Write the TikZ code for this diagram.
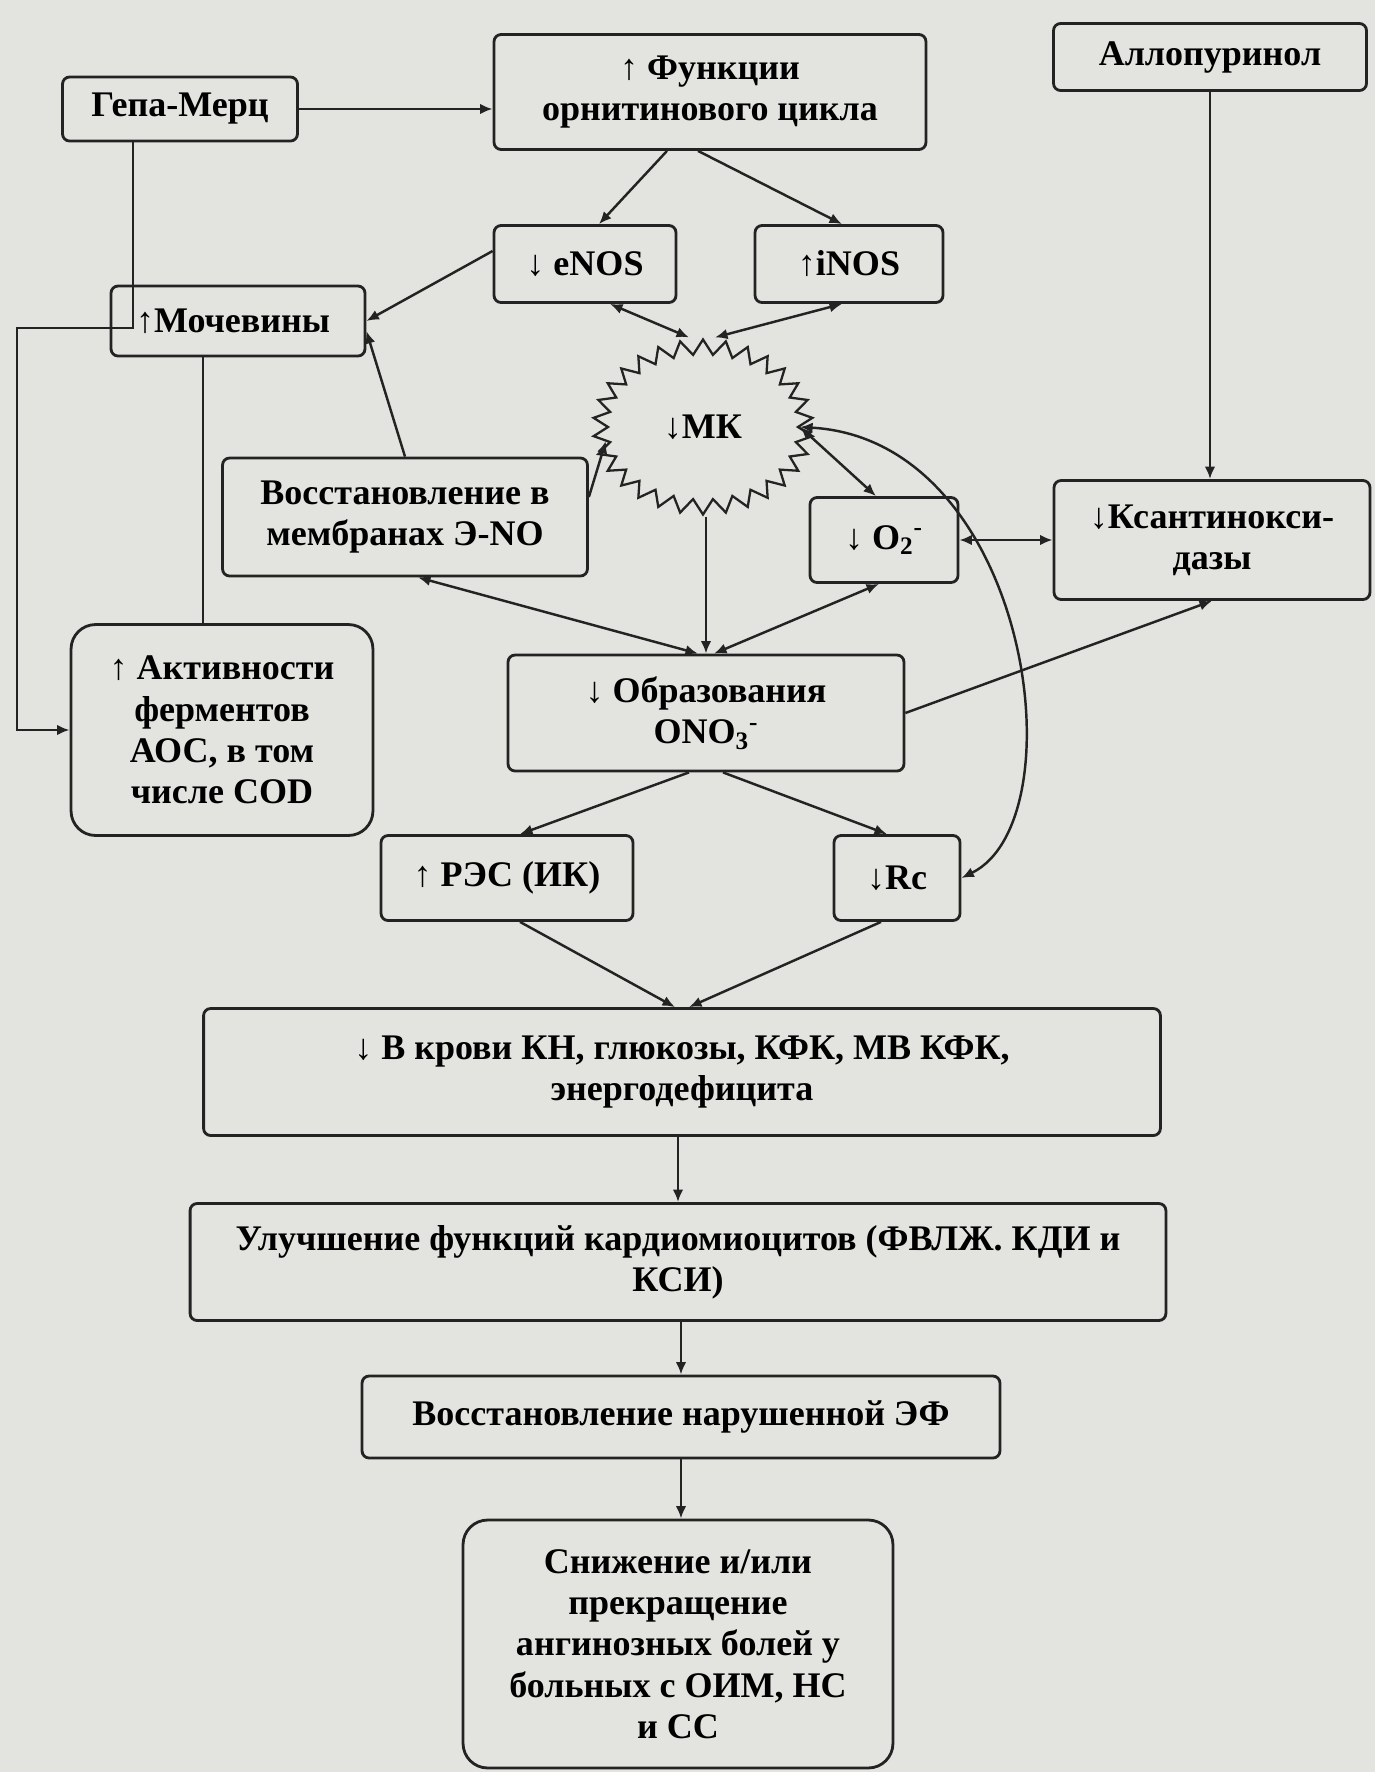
\documentclass[tikz,border=0pt]{standalone}
\usepackage{fontspec}
\setmainfont{Liberation Serif}
\usetikzlibrary{arrows.meta,shapes.symbols,calc}
\definecolor{paper}{RGB}{227,227,223}
\definecolor{ink}{RGB}{35,35,35}

\begin{document}
\begin{tikzpicture}[
    x=0.02cm, y=-0.02cm,
    box/.style={draw=ink,line width=1.6pt,rounded corners=4pt,align=center,inner sep=2pt,
      font=\fontsize{20.5}{23.5}\selectfont\bfseries},
    bigbox/.style={box,rounded corners=14pt},
    arrow/.style={-{Latex[length=2.5mm,width=2.1mm]},draw=ink,line width=1.4pt},
    both/.style={{Latex[length=2.5mm,width=2.1mm]}-{Latex[length=2.5mm,width=2.1mm]},draw=ink,line width=1.4pt},
    line/.style={draw=ink,line width=1.4pt}
  ]
    \fill[paper] (0,0) rectangle (1375,1772);
    \useasboundingbox (0,0) rectangle (1375,1772);

    % top row
    \node[box,minimum width=4.7cm,minimum height=1.28cm] (gepa) at (180,109) {Гепа-Мерц};
    \node[box,minimum width=8.64cm,minimum height=2.3cm] (ornit) at (710,92) {↑ Функции\\орнитинового цикла};
    \node[box,minimum width=6.26cm,minimum height=1.34cm] (allo) at (1210,57) {Аллопуринол};
    \node[box,minimum width=3.64cm,minimum height=1.54cm] (enos) at (585,264) {↓ eNOS};
    \node[box,minimum width=3.76cm,minimum height=1.54cm] (inos) at (849,264) {↑iNOS};
    \node[box,minimum width=5.08cm,minimum height=1.4cm] (urea) at (238,321) {↑Мочевины\hspace*{0.2cm}};

    % middle
    \node[starburst,starburst points=30,starburst point height=0.3cm,random starburst=0,
      draw=ink,line width=1.3pt,minimum width=4.4cm,minimum height=3.5cm,
      font=\fontsize{20.5}{23.5}\selectfont\bfseries] (mk) at (703,427) {↓МК};
    \node[box,minimum width=7.3cm,minimum height=2.36cm] (membr) at (405,517) {Восстановление в\\мембранах Э-NO};
    \node[box,minimum width=2.96cm,minimum height=1.7cm] (otwo) at (884,540) {↓ O\textsubscript{2}\textsuperscript{-}};
    \node[box,minimum width=6.32cm,minimum height=2.38cm] (xo) at (1212,540) {↓Ксантинокси-\\дазы};
    \node[bigbox,minimum width=6.04cm,minimum height=4.22cm] (aos) at (222,730) {↑ Активности\\ферментов\\АОС, в том\\числе COD};
    \node[box,minimum width=7.92cm,minimum height=2.32cm] (ono) at (706,713) {↓ Образования\\ONO\textsubscript{3}\textsuperscript{-}};
    \node[box,minimum width=5.04cm,minimum height=1.7cm] (res) at (507,878) {↑ РЭС (ИК)};
    \node[box,minimum width=2.52cm,minimum height=1.7cm] (rc) at (897,878) {↓Rc};

    % bottom chain
    \node[box,minimum width=19.14cm,minimum height=2.54cm] (blood) at (682,1072) {↓ В крови КН, глюкозы, КФК, MB КФК,\\энергодефицита};
    \node[box,minimum width=19.52cm,minimum height=2.34cm] (cardio) at (678,1262) {Улучшение функций кардиомиоцитов (ФВЛЖ. КДИ и\\КСИ)};
    \node[box,minimum width=12.76cm,minimum height=1.64cm] (ef) at (681,1417) {Восстановление нарушенной ЭФ};
    \node[bigbox,minimum width=8.6cm,minimum height=4.96cm] (pain) at (678,1644) {Снижение и/или\\прекращение\\ангинозных болей у\\больных с ОИМ, НС\\и СС};

    \coordinate (gdrop) at (133,328);
    \coordinate (gleft) at (17,328);

    \draw[arrow] (gepa.east) -- (gepa.east -| ornit.west);
    \draw[arrow] (gepa.south -| gdrop) -- (gdrop) -- (gleft) |- (aos.west);
    \draw[line] ([xshift=-0.38cm]aos.north |- urea.south) -- ([xshift=-0.38cm]aos.north);
    \draw[arrow] ([xshift=-0.86cm]ornit.south) -- ([xshift=0.28cm]enos.north);
    \draw[arrow] ([xshift=-0.24cm]ornit.south) -- ([xshift=-0.14cm]inos.north);
    \draw[arrow] ([yshift=0.26cm]enos.west) -- (urea.east);
    \draw[arrow] (membr.north) -- ([yshift=-0.2cm]urea.east);
    \draw[both] ([xshift=0.5cm]enos.south) -- ([xshift=-0.28cm]mk.north);
    \draw[both] ([xshift=-0.14cm]inos.south) -- ([xshift=0.24cm]mk.north);
    \draw[arrow] ([yshift=0.4cm]membr.east) -- ([yshift=-0.28cm]mk.west);
    \draw[arrow] (mk.south -| ono.north) -- (ono.north);
    \draw[both] ([xshift=0.26cm]membr.south) -- ([xshift=-0.16cm]ono.north);
    \draw[both] ([xshift=-0.1cm]otwo.south) -- ([xshift=0.16cm]ono.north);
    \draw[both] (mk.east) -- ([xshift=-0.16cm]otwo.north);
    \draw[both] (otwo.east) -- (xo.west);
    \draw[arrow] (allo.south) -- (allo.south |- xo.north);
    \draw[arrow] (ono.east) -- (xo.south);
    \draw[both] (mk.east) .. controls (1030,440) and (1080,820) .. (rc.east);
    \draw[arrow] ([xshift=-0.34cm]ono.south) -- ([xshift=0.26cm]res.north);
    \draw[arrow] ([xshift=0.34cm]ono.south) -- ([xshift=-0.2cm]rc.north);
    \draw[arrow] ([xshift=0.26cm]res.south) -- ([xshift=-0.14cm]blood.north);
    \draw[arrow] ([xshift=-0.32cm]rc.south) -- ([xshift=0.14cm]blood.north);
    \draw[arrow] (cardio.north |- blood.south) -- (cardio.north);
    \draw[arrow] (ef.north |- cardio.south) -- (ef.north);
    \draw[arrow] (ef.south) -- (ef.south |- pain.north);
\end{tikzpicture}
\end{document}
